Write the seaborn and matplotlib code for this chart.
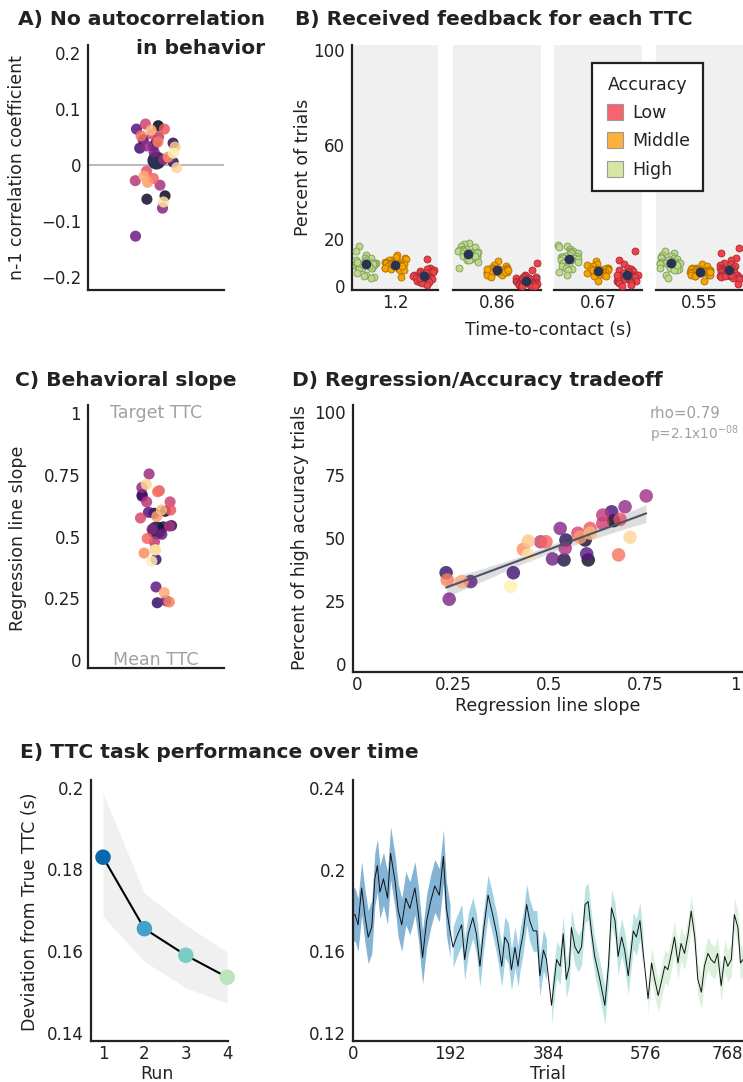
import numpy as np
import pandas as pd
import seaborn as sns
import matplotlib.pyplot as plt
from matplotlib.lines import Line2D
from matplotlib.ticker import FuncFormatter

# ---------------- data ----------------
# subjects are ordered by their colour in the magma palette (dark -> light)
slope = [0.668, 0.602, 0.594, 0.539, 0.544, 0.232, 0.407, 0.663, 0.598, 0.296, 0.509,
         0.240, 0.529, 0.698, 0.753, 0.542, 0.640, 0.478, 0.640, 0.575, 0.685, 0.607,
         0.492, 0.681, 0.235, 0.433, 0.581, 0.273, 0.607, 0.446, 0.711, 0.446, 0.400]
high_pct = [56.9, 41.3, 49.2, 41.3, 49.2, 36.2, 36.2, 60.4, 43.7, 32.7, 41.7,
            25.7, 53.8, 62.4, 66.7, 45.9, 59.1, 48.5, 55.8, 51.9, 57.4, 53.8,
            48.5, 43.3, 33.3, 45.5, 50.3, 32.7, 51.9, 48.8, 50.3, 43.3, 30.7]
autocorr = [0.070, -0.055, -0.061, 0.041, 0.039, 0.005, 0.030, 0.045, 0.064, 0.034, -0.127,
            0.023, -0.077, 0.034, 0.010, -0.036, -0.028, 0.050, 0.073, 0.055, -0.011, 0.064,
            -0.024, 0.052, 0.041, 0.014, -0.031, -0.020, 0.062, 0.032, -0.005, -0.066, 0.021]
subjects = [f"s{i}" for i in range(len(slope))]

# panel B: percent of trials per subject, per TTC and accuracy level
ttc_labels = ["1.2", "0.86", "0.67", "0.55"]
acc_order = ["High", "Middle", "Low"]
fb_high = [
    [17, 15, 13.5, 12, 12, 11, 11, 10.5, 10, 10, 10, 9.5, 9.5, 9, 9, 9, 8.5, 8.5, 8, 8, 8,
     9.5, 9.5, 9.5, 10, 10.5, 8, 8.5, 5.5, 5, 4.5, 4, 3.5],
    [18.4, 18, 17, 16.5, 16, 16, 15.5, 15.5, 15, 15, 14.5, 14.5, 14, 14, 14, 13.5, 13.5, 13.5,
     13, 13, 13, 12.5, 12.5, 12, 12, 12, 11.5, 11, 11, 10.5, 14, 13, 8],
    [17.7, 17, 16.5, 16, 15, 15, 14.5, 14, 14, 13.5, 13, 13, 12.5, 12.5, 12, 12, 12, 11.5, 11.5,
     11, 11, 10.5, 10.5, 10, 10, 9.5, 9, 8.5, 8, 7.5, 7, 6, 5],
    [15, 14, 13.5, 13, 12.5, 12, 12, 11.5, 11, 11, 10.5, 10.5, 10, 10, 10, 10, 9.5, 9.5, 9.5,
     9, 9, 9, 8.5, 8.5, 8, 8, 7.5, 7, 7, 9.5, 9, 5, 3.5],
]
fb_mid = [
    [13.5, 12.5, 12, 11.5, 11, 11, 10.5, 10.5, 10, 10, 10, 10, 9.5, 9.5, 9.5, 9, 9, 9, 9, 8.5,
     8.5, 8.5, 8, 8, 8, 7.5, 7.5, 7, 7, 9, 9.5, 8.5, 3.8],
    [10.9, 9, 8.5, 8, 8, 8, 7.5, 7.5, 7.5, 7, 7, 7, 7, 7, 6.5, 6.5, 6.5, 6.5, 6.5, 6, 6, 6, 6,
     6, 5.5, 5.5, 5.5, 5, 5, 6, 7, 4, 7.5],
    [10.7, 9.5, 9, 8.5, 8, 8, 7.5, 7.5, 7.5, 7, 7, 7, 7, 6.5, 6.5, 6.5, 6.5, 6.5, 6, 6, 6, 6,
     5.5, 5.5, 5.5, 5, 5, 5, 4.5, 4.5, 7.5, 7, 2.4],
    [9.3, 8.5, 8, 8, 7.5, 7.5, 7.5, 7, 7, 7, 7, 6.5, 6.5, 6.5, 6.5, 6.5, 6, 6, 6, 6, 6, 5.5,
     5.5, 5.5, 5.5, 5, 5, 5, 4.5, 4.5, 6.5, 6, 2.4],
]
fb_low = [
    [11.4, 8, 7.5, 7, 6.5, 6, 6, 5.5, 5.5, 5, 5, 5, 4.5, 4.5, 4.5, 4, 4, 4, 4, 3.5, 3.5, 3.5,
     3, 3, 3, 2.5, 2.5, 2, 2, 1.5, 3.5, 4.5, 0.5],
    [10, 7, 5, 4.5, 4, 4, 3.5, 3.5, 3, 3, 3, 2.5, 2.5, 2.5, 2, 2, 2, 2, 1.5, 1.5, 1.5, 1, 1,
     1, 1, 0.5, 0.5, 0.5, 0.3, 0.3, 0.2, 0.2, 0.1],
    [15, 11, 9.5, 8, 7.5, 7, 6.5, 6, 6, 5.5, 5.5, 5, 5, 4.5, 4.5, 4, 4, 4, 3.5, 3.5, 3, 3, 3,
     2.5, 2.5, 2, 2, 1.5, 1.5, 4, 5, 0.5, 0.4],
    [16.3, 14, 12, 11, 10, 9.5, 9, 8.5, 8, 8, 7.5, 7.5, 7, 7, 6.5, 6.5, 6, 6, 6, 5.5, 5.5, 5,
     5, 4.5, 4.5, 4, 4, 3.5, 3, 3, 4.5, 5, 1],
]

# panel E: per-run deviation with band
runs = [1, 2, 3, 4]
run_dev = [0.183, 0.1655, 0.159, 0.1536]
run_lo = [0.1685, 0.1575, 0.151, 0.1473]
run_hi = [0.1987, 0.1742, 0.1664, 0.1598]

# panel E: trial-wise deviation (sampled along the curve) and band half-width per run
ts_trial = [1, 4, 10, 17, 24, 30, 37, 43, 48, 53, 60, 68, 74, 83, 89, 96, 104, 112, 122, 129,
            137, 145, 153, 161, 170, 178, 184, 191, 197, 204, 214, 220, 227, 236, 243, 250,
            257, 266, 275, 283, 293, 299, 306, 312, 319, 325, 329, 335, 342, 348, 355, 362,
            368, 375, 381, 391, 401, 408, 414, 420, 426, 430, 437, 444, 450, 457, 463, 470,
            476, 486, 496, 503, 509, 516, 522, 529, 535, 542, 552, 558, 565, 571, 581, 588,
            594, 601, 607, 614, 620, 627, 633, 640, 646, 653, 660, 666, 673, 679, 686, 692,
            699, 705, 712, 718, 725, 732, 738, 745, 751, 758, 763, 768]
ts_dev = [0.178, 0.178, 0.173, 0.191, 0.1765, 0.167, 0.172, 0.1955, 0.202, 0.189, 0.1955,
          0.186, 0.208, 0.194, 0.18, 0.173, 0.186, 0.181, 0.191, 0.178, 0.157, 0.175, 0.1845,
          0.192, 0.1875, 0.2065, 0.181, 0.170, 0.162, 0.167, 0.173, 0.156, 0.1685, 0.1765,
          0.1685, 0.1527, 0.17, 0.1875, 0.178, 0.1685, 0.1527, 0.167, 0.1638, 0.151, 0.162,
          0.1527, 0.1606, 0.1686, 0.1829, 0.175, 0.170, 0.170, 0.148, 0.1606, 0.156, 0.1336,
          0.156, 0.1527, 0.1686, 0.1463, 0.1527, 0.1717, 0.1622, 0.159, 0.1622, 0.1829,
          0.1844, 0.1686, 0.1575, 0.1463, 0.1336, 0.1527, 0.1813, 0.175, 0.1575, 0.167,
          0.1606, 0.148, 0.170, 0.167, 0.175, 0.1606, 0.1368, 0.1543, 0.1463, 0.1384, 0.1448,
          0.1527, 0.151, 0.159, 0.167, 0.1543, 0.1638, 0.159, 0.1686, 0.1797, 0.167, 0.1463,
          0.14, 0.1527, 0.159, 0.156, 0.1543, 0.159, 0.1432, 0.1575, 0.1527, 0.156, 0.178,
          0.1717, 0.1543, 0.156]
run_sem = [0.013, 0.010, 0.009, 0.008]

# ---------------- style ----------------
INK = "#222222"
NAVY = "#283352"
GRAY_TXT = "#a0a0a0"
acc_fill = {"Low": "#f0424c", "Middle": "#f6a400", "High": "#bcd98c"}
acc_edge = {"Low": "#a62b31", "Middle": "#b06f00", "High": "#7f9c5a"}
acc_legend = {"Low": "#f6646c", "Middle": "#fbb23c", "High": "#d6e6a3"}
run_colors = ["#0868ac", "#43a2ca", "#7bccc4", "#bae4bc"]

sns.set_theme(style="white")
plt.rcParams["font.family"] = ["DejaVu Sans"]
plt.rcParams["text.color"] = INK

W, H = 743, 1082
fig = plt.figure(figsize=(W / 100, H / 100), dpi=100)
fmt = FuncFormatter(lambda v, p: f"{v:g}".replace("-", "\u2212"))


def box(l, t, r, b):
    return [l / W, 1 - b / H, (r - l) / W, (b - t) / H]


def ftext(x, y, s, **kw):
    fig.text(x / W, 1 - y / H, s, **kw)


def style(ax, left=True):
    sns.despine(ax=ax, left=not left)
    for s in ("left", "bottom"):
        ax.spines[s].set_color(INK)
        ax.spines[s].set_linewidth(1.6)
    ax.tick_params(length=0, pad=5, labelsize=12, colors=INK)
    ax.tick_params(axis="x", pad=3)
    ax.set_xlabel("")
    ax.set_ylabel("")


def title(x, y, s, **kw):
    ftext(x, y, s, fontsize=14.6, fontweight="bold", va="center", **kw)


def ylab(x, y, s):
    ftext(x, y, s, fontsize=12.5, rotation=90, ha="center", va="center")


def xlab(x, y, s):
    ftext(x, y, s, fontsize=12.5, ha="center", va="center")


pal = sns.color_palette("magma", len(subjects))

# ---------------- A ----------------
axA = fig.add_axes(box(88, 45, 224, 290))
np.random.seed(3)
axA.axhline(0, color="#bbbbbb", lw=1.5, zorder=0)
sns.stripplot(y=autocorr, hue=subjects, palette=pal, size=8, alpha=0.85, jitter=0.16,
              linewidth=0, legend=False, ax=axA)
sns.pointplot(y=autocorr, color=NAVY, errorbar="se", markersize=11,
              err_kws={"linewidth": 2.5}, ax=axA)
axA.set_xlim(-0.5, 0.5)
axA.set_ylim(-0.223, 0.214)
axA.set_yticks([-0.2, -0.1, 0, 0.1, 0.2])
axA.yaxis.set_major_formatter(fmt)
axA.set_xticks([])
style(axA)
title(18, 20, "A) No autocorrelation")
title(265, 48, "in behavior", ha="right")
ylab(17, 168, "n-1 correlation coefficient")

# ---------------- B ----------------
cols = [(352, 438), (453, 541), (554, 642), (656, 743)]
np.random.seed(11)
for i, (l, r) in enumerate(cols):
    ax = fig.add_axes(box(l, 45, r, 290))
    ax.set_facecolor("#f0f0f0")
    groups = {"High": fb_high[i], "Middle": fb_mid[i], "Low": fb_low[i]}
    for lev in acc_order:
        vals = groups[lev]
        sns.stripplot(x=[lev] * len(vals), y=vals, order=acc_order, color=acc_fill[lev],
                      edgecolor=acc_edge[lev], linewidth=0.6, size=5, jitter=0.38, ax=ax)
    long = pd.DataFrame({"acc": [lev for lev in acc_order for _ in groups[lev]],
                         "pct": [v for lev in acc_order for v in groups[lev]]})
    means = long.groupby("acc")["pct"].mean().reindex(acc_order)
    sns.stripplot(x=means.index, y=means.values, order=acc_order, color=NAVY, size=7,
                  jitter=0, linewidth=0, zorder=5, ax=ax)
    ax.set_xlim(-0.5, 2.5)
    ax.set_ylim(-1.5, 102.1)
    ax.set_xticks([1])
    ax.set_xticklabels([ttc_labels[i]])
    if i == 0:
        ax.set_yticks([0, 20, 60, 100])
        style(ax)
    else:
        ax.set_yticks([])
        style(ax, left=False)
title(295, 20, "B) Received feedback for each TTC")
ylab(303, 167, "Percent of trials")
xlab(548, 330, "Time-to-contact (s)")
handles = [Line2D([], [], marker="s", ls="none", markersize=11, markerfacecolor=acc_legend[k],
                  markeredgecolor="#9a9a9a", markeredgewidth=0.8) for k in ["Low", "Middle", "High"]]
leg = fig.legend(handles, ["Low", "Middle", "High"], title="Accuracy", loc="upper left",
                 bbox_to_anchor=(592 / W, 1 - 63 / H), borderaxespad=0, frameon=True,
                 fancybox=False, edgecolor=INK, framealpha=1, fontsize=12.5,
                 title_fontsize=12.5, handletextpad=0.4, labelspacing=0.6, borderpad=0.72,
                 handlelength=1.2)
leg.get_frame().set_linewidth(1.6)

# ---------------- C ----------------
axC = fig.add_axes(box(88, 405, 224, 668))
np.random.seed(7)
sns.stripplot(y=slope, hue=subjects, palette=pal, size=8, alpha=0.85, jitter=0.12,
              linewidth=0, legend=False, ax=axC)
sns.pointplot(y=slope, color=NAVY, errorbar="se", markersize=11,
              err_kws={"linewidth": 2.5}, ax=axC)
axC.text(0, 1.0, "Target TTC", color=GRAY_TXT, fontsize=12.5, ha="center", va="center")
axC.text(0, 0.0, "Mean TTC", color=GRAY_TXT, fontsize=12.5, ha="center", va="center")
axC.set_xlim(-0.5, 0.5)
axC.set_ylim(-0.032, 1.032)
axC.set_yticks([0, 0.25, 0.5, 0.75, 1])
axC.yaxis.set_major_formatter(fmt)
axC.set_xticks([])
style(axC)
title(15, 380, "C) Behavioral slope")
ylab(18, 538, "Regression line slope")

# ---------------- D ----------------
axD = fig.add_axes(box(353, 405, 743, 672))
sns.regplot(x=slope, y=high_pct, scatter=False, ci=95, n_boot=500, seed=1, color="#4a5468",
            line_kws={"linewidth": 1.5}, ax=axD)
for coll in axD.collections:
    coll.set_facecolor("#b4b4b4")
    coll.set_alpha(0.45)
sns.scatterplot(x=slope, y=high_pct, hue=subjects, palette=pal, s=95, alpha=0.8,
                linewidth=0, legend=False, ax=axD)
axD.text(0.763, 99.6, "rho=0.79", color=GRAY_TXT, fontsize=10.8, va="center")
axD.text(0.763, 91.3, r"p=2.1x10$^{-08}$", color=GRAY_TXT, fontsize=9.8, va="center")
axD.set_xlim(-0.0104, 1.005)
axD.set_ylim(-3.2, 102.8)
axD.set_xticks([0, 0.25, 0.5, 0.75, 1])
axD.set_yticks([0, 25, 50, 75, 100])
axD.xaxis.set_major_formatter(fmt)
style(axD)
axD.get_xticklabels()[-1].set_ha("right")
title(292, 380, "D) Regression/Accuracy tradeoff")
ylab(300, 538, "Percent of high accuracy trials")
xlab(548, 706, "Regression line slope")

# ---------------- E (runs) ----------------
axE = fig.add_axes(box(91, 780, 228, 1041))
axE.fill_between(runs, run_lo, run_hi, color="#f0f0f0", lw=0, zorder=0)
sns.lineplot(x=runs, y=run_dev, color="black", lw=1.5, ax=axE)
sns.scatterplot(x=runs, y=run_dev, hue=[str(r) for r in runs], palette=run_colors, s=125,
                linewidth=0, legend=False, zorder=3, clip_on=False, ax=axE)
axE.set_xlim(0.71, 4.02)
axE.set_ylim(0.138, 0.2019)
axE.set_xticks(runs)
axE.set_yticks([0.14, 0.16, 0.18, 0.2])
axE.yaxis.set_major_formatter(fmt)
style(axE)
title(20, 753, "E) TTC task performance over time")
ylab(30, 912, "Deviation from True TTC (s)")
xlab(157, 1074, "Run")

# ---------------- E (trials) ----------------
axF = fig.add_axes(box(353, 780, 743, 1041))
t = np.array(ts_trial)
d = np.array(ts_dev)
for r in range(4):
    m = (t >= r * 192) & (t <= (r + 1) * 192)
    axF.fill_between(t[m], d[m] - run_sem[r], d[m] + run_sem[r], color=run_colors[r],
                     alpha=0.5, lw=0)
sns.lineplot(x=ts_trial, y=ts_dev, color="#111111", lw=0.7, ax=axF)
axF.set_xlim(0, 768)
axF.set_ylim(0.1161, 0.2439)
axF.set_xticks([0, 192, 384, 576, 768])
axF.set_yticks([0.12, 0.16, 0.2, 0.24])
axF.yaxis.set_major_formatter(fmt)
style(axF)
axF.get_xticklabels()[-1].set_ha("right")
xlab(548, 1074, "Trial")

fig.savefig("out.png", dpi=100)
